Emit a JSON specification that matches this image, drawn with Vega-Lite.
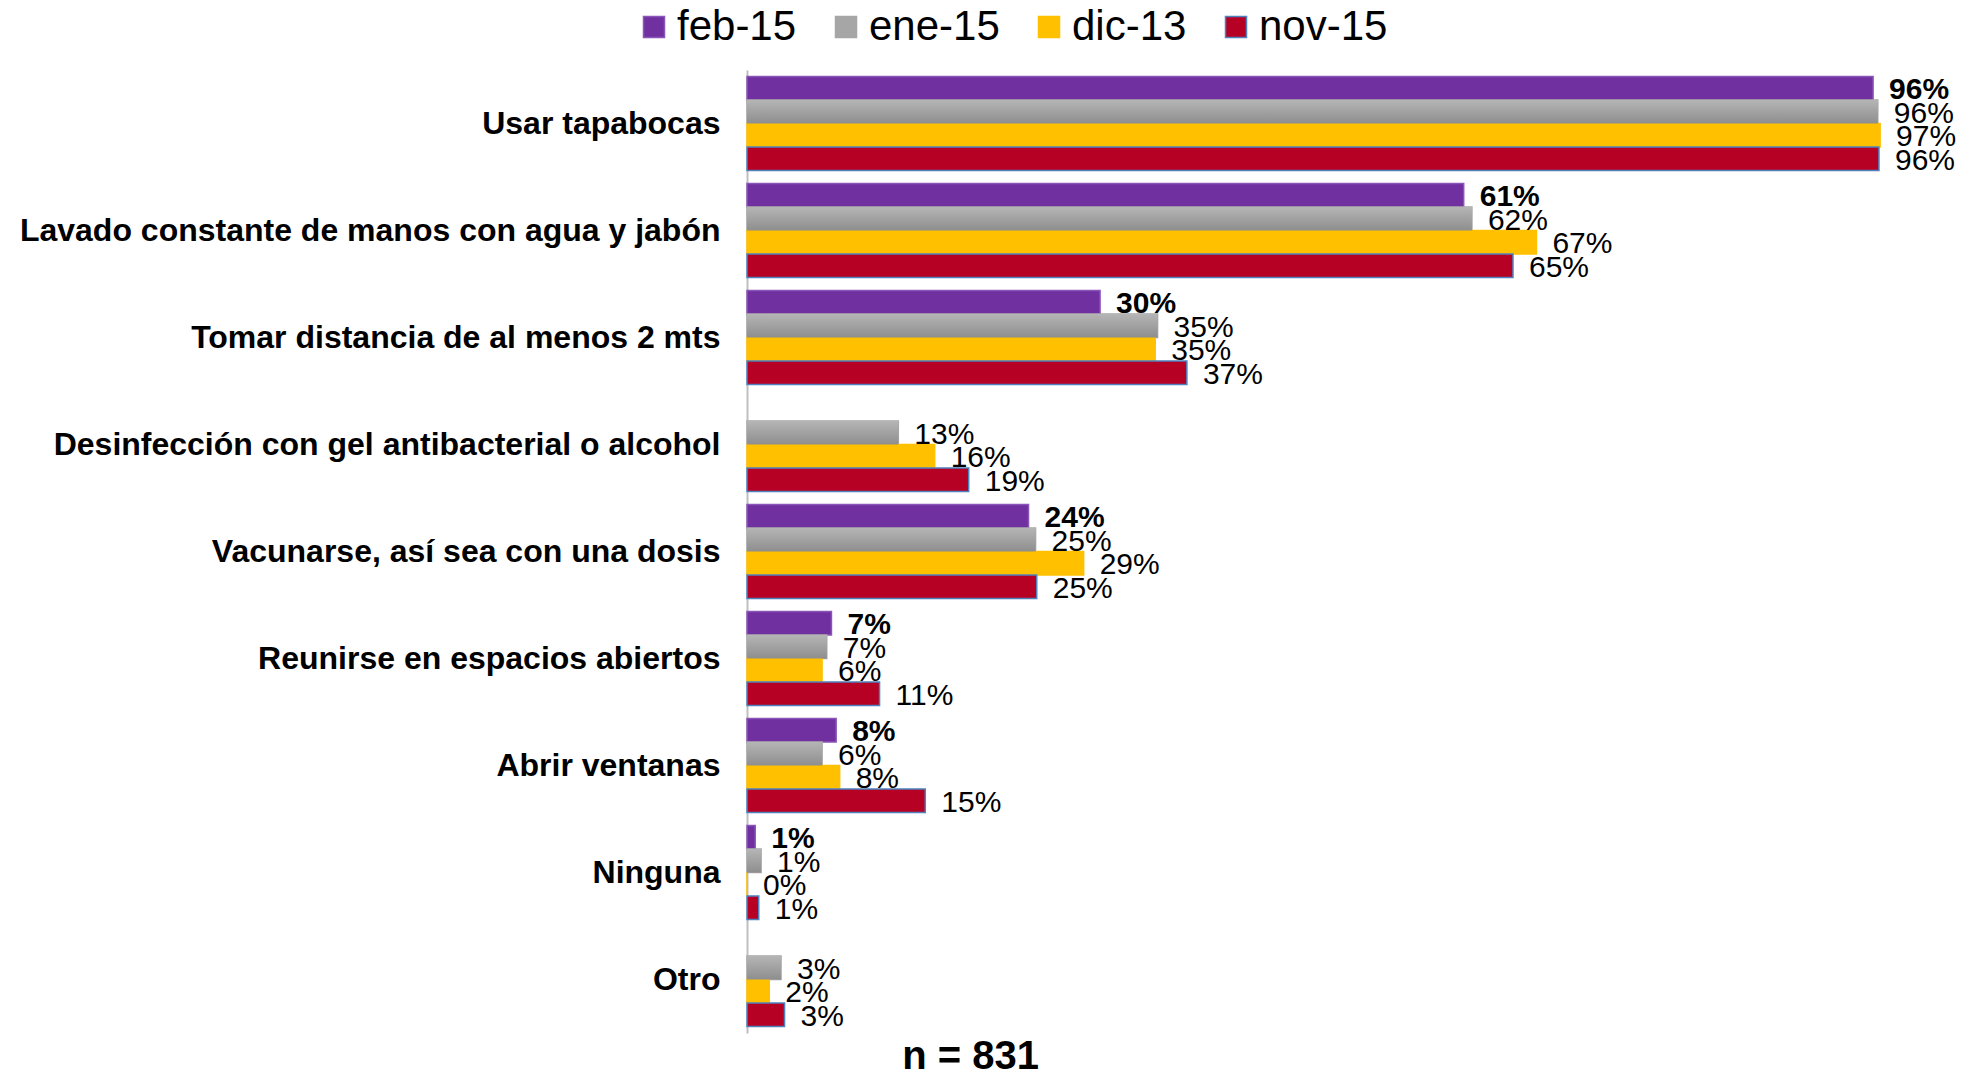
{
  "$schema": "https://vega.github.io/schema/vega-lite/v6.json",
  "width": 1173,
  "height": 963,
  "autosize": {"type": "none"},
  "padding": {"left": 747, "top": 70, "right": 49, "bottom": 38},
  "background": "white",
  "config": {"view": {"stroke": null}, "font": "Liberation Sans"},
  "data": {
    "values": [
      {"cat": "Usar tapabocas", "serie": "feb-15", "v": 96.0, "label": "96%"},
      {"cat": "Usar tapabocas", "serie": "ene-15", "v": 96.4, "label": "96%"},
      {"cat": "Usar tapabocas", "serie": "dic-13", "v": 96.6, "label": "97%"},
      {"cat": "Usar tapabocas", "serie": "nov-15", "v": 96.5, "label": "96%"},
      {"cat": "Lavado constante de manos con agua y jabón", "serie": "feb-15", "v": 61.1, "label": "61%"},
      {"cat": "Lavado constante de manos con agua y jabón", "serie": "ene-15", "v": 61.8, "label": "62%"},
      {"cat": "Lavado constante de manos con agua y jabón", "serie": "dic-13", "v": 67.3, "label": "67%"},
      {"cat": "Lavado constante de manos con agua y jabón", "serie": "nov-15", "v": 65.3, "label": "65%"},
      {"cat": "Tomar distancia de al menos 2 mts", "serie": "feb-15", "v": 30.1, "label": "30%"},
      {"cat": "Tomar distancia de al menos 2 mts", "serie": "ene-15", "v": 35.0, "label": "35%"},
      {"cat": "Tomar distancia de al menos 2 mts", "serie": "dic-13", "v": 34.8, "label": "35%"},
      {"cat": "Tomar distancia de al menos 2 mts", "serie": "nov-15", "v": 37.5, "label": "37%"},
      {"cat": "Desinfección con gel antibacterial o alcohol", "serie": "ene-15", "v": 12.9, "label": "13%"},
      {"cat": "Desinfección con gel antibacterial o alcohol", "serie": "dic-13", "v": 16.0, "label": "16%"},
      {"cat": "Desinfección con gel antibacterial o alcohol", "serie": "nov-15", "v": 18.9, "label": "19%"},
      {"cat": "Vacunarse, así sea con una dosis", "serie": "feb-15", "v": 24.0, "label": "24%"},
      {"cat": "Vacunarse, así sea con una dosis", "serie": "ene-15", "v": 24.6, "label": "25%"},
      {"cat": "Vacunarse, así sea con una dosis", "serie": "dic-13", "v": 28.7, "label": "29%"},
      {"cat": "Vacunarse, así sea con una dosis", "serie": "nov-15", "v": 24.7, "label": "25%"},
      {"cat": "Reunirse en espacios abiertos", "serie": "feb-15", "v": 7.2, "label": "7%"},
      {"cat": "Reunirse en espacios abiertos", "serie": "ene-15", "v": 6.8, "label": "7%"},
      {"cat": "Reunirse en espacios abiertos", "serie": "dic-13", "v": 6.4, "label": "6%"},
      {"cat": "Reunirse en espacios abiertos", "serie": "nov-15", "v": 11.3, "label": "11%"},
      {"cat": "Abrir ventanas", "serie": "feb-15", "v": 7.6, "label": "8%"},
      {"cat": "Abrir ventanas", "serie": "ene-15", "v": 6.4, "label": "6%"},
      {"cat": "Abrir ventanas", "serie": "dic-13", "v": 7.9, "label": "8%"},
      {"cat": "Abrir ventanas", "serie": "nov-15", "v": 15.2, "label": "15%"},
      {"cat": "Ninguna", "serie": "feb-15", "v": 0.7, "label": "1%"},
      {"cat": "Ninguna", "serie": "ene-15", "v": 1.2, "label": "1%"},
      {"cat": "Ninguna", "serie": "dic-13", "v": 0, "label": "0%"},
      {"cat": "Ninguna", "serie": "nov-15", "v": 1.0, "label": "1%"},
      {"cat": "Otro", "serie": "ene-15", "v": 2.9, "label": "3%"},
      {"cat": "Otro", "serie": "dic-13", "v": 1.9, "label": "2%"},
      {"cat": "Otro", "serie": "nov-15", "v": 3.2, "label": "3%"}
    ]
  },
  "encoding": {
    "y": {
      "field": "cat",
      "type": "nominal",
      "sort": ["Usar tapabocas", "Lavado constante de manos con agua y jabón", "Tomar distancia de al menos 2 mts", "Desinfección con gel antibacterial o alcohol", "Vacunarse, así sea con una dosis", "Reunirse en espacios abiertos", "Abrir ventanas", "Ninguna", "Otro"],
      "scale": {"paddingInner": 0.12, "paddingOuter": 0.06},
      "axis": {
        "title": null,
        "ticks": false,
        "labelPadding": 27,
        "labelFontSize": 32,
        "labelFontWeight": "bold",
        "labelColor": "black",
        "labelFont": "Liberation Sans",
        "labelLimit": 0,
        "domainColor": "#BFBFBF",
        "domainWidth": 2
      }
    },
    "yOffset": {
      "field": "serie",
      "type": "nominal",
      "scale": {"domain": ["feb-15", "ene-15", "dic-13", "nov-15"], "paddingInner": 0, "paddingOuter": 0}
    },
    "x": {
      "field": "v",
      "type": "quantitative",
      "scale": {"domain": [0, 100], "nice": false},
      "axis": {
        "title": "n = 831",
        "labels": false,
        "ticks": false,
        "domain": false,
        "grid": false,
        "titleFontSize": 40,
        "titleFontWeight": "bold",
        "titleFont": "Liberation Sans",
        "titleColor": "black",
        "titleX": 223,
        "titleY": 35,
        "titleBaseline": "alphabetic",
        "titleAnchor": "middle"
      }
    }
  },
  "layer": [
    {
      "mark": {"type": "bar", "strokeWidth": 1.5},
      "encoding": {
        "color": {
          "field": "serie",
          "type": "nominal",
          "scale": {"domain": ["feb-15", "ene-15", "dic-13", "nov-15"], "range": ["#7030A0", "#A6A6A6", "#FFC000", "#B60024"]},
          "legend": {
            "orient": "none",
            "legendX": -114,
            "legendY": -64,
            "direction": "horizontal",
            "title": null,
            "labelFontSize": 42,
            "labelFont": "Liberation Sans",
            "labelColor": "black",
            "labelLimit": 0,
            "symbolType": "square",
            "symbolSize": 441,
            "symbolStrokeWidth": 1.5,
            "labelOffset": 2,
            "columnPadding": 28,
            "padding": 0
          }
        },
        "stroke": {
          "field": "serie",
          "type": "nominal",
          "scale": {"domain": ["feb-15", "ene-15", "dic-13", "nov-15"], "range": ["#8A55B8", "#A6A6A6", "#FFC000", "#4F81BD"]}
        }
      }
    },
    {
      "transform": [{"filter": "datum.serie === 'ene-15'"}],
      "mark": {
        "type": "bar",
        "stroke": null,
        "fill": {"gradient": "linear", "x1": 0, "y1": 0, "x2": 0, "y2": 1, "stops": [{"offset": 0, "color": "#B5B5B5"}, {"offset": 1, "color": "#8E8E8E"}]}
      }
    },
    {
      "transform": [{"filter": "datum.serie === 'feb-15'"}],
      "mark": {"type": "text", "align": "left", "baseline": "middle", "dx": 16, "dy": 2, "fontSize": 30, "fontWeight": "bold", "color": "black", "font": "Liberation Sans"},
      "encoding": {"text": {"field": "label"}}
    },
    {
      "transform": [{"filter": "datum.serie !== 'feb-15'"}],
      "mark": {"type": "text", "align": "left", "baseline": "middle", "dx": 16, "dy": 2, "fontSize": 30, "color": "black", "font": "Liberation Sans"},
      "encoding": {"text": {"field": "label"}}
    }
  ]
}
